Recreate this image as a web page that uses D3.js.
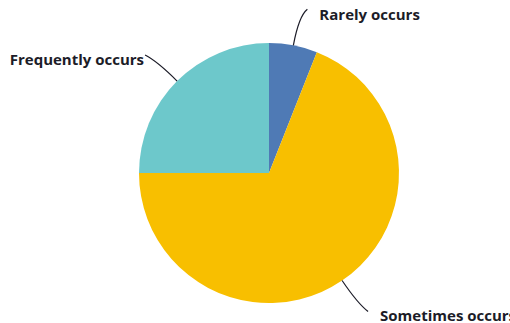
<!DOCTYPE html>
<html>
<head>
<meta charset="utf-8">
<script src="https://cdn.jsdelivr.net/npm/d3@7"></script>
<style>
  html, body { margin: 0; padding: 0; background: #fff; }
  svg { display: block; }
  .lbl { font-family: "Open Sans", "Noto Sans", sans-serif; font-weight: 700; font-size: 15px; fill: #1c1c28; }
</style>
</head>
<body>
<svg id="chart" width="510" height="323"></svg>
<script>
// Share of responses per category
const categories = ["Rarely occurs", "Sometimes occurs", "Frequently occurs"];
const values = [6, 69, 25];
const colors = ["#4f7ab5", "#f8bf00", "#6dc8cb"];

const W = 510, H = 323;
const cx = 269, cy = 173, R = 130;

const svg = d3.select("#chart");
const g = svg.append("g").attr("transform", `translate(${cx},${cy})`);

const pie = d3.pie().sort(null).value(d => d.value);
const arc = d3.arc().innerRadius(0).outerRadius(R);
const arcs = pie(categories.map((c, i) => ({ name: c, value: values[i], color: colors[i] })));

g.selectAll("path.slice")
  .data(arcs)
  .enter().append("path")
  .attr("class", "slice")
  .attr("d", arc)
  .attr("fill", d => d.data.color);

// Leader line layout per label: end point of the curve relative to the slice edge point,
// control radius, and label anchoring
const leader = {
  "Rarely occurs":     { end: [14, -36], ctrl: 160, anchor: "start", tx: 12, ty: 11 },
  "Sometimes occurs":  { end: [26, 31], ctrl: 158, anchor: "start", tx: 12, ty: 9 },
  "Frequently occurs": { end: [-32, -26], ctrl: 158, anchor: "end", tx: -1, ty: 10 }
};

const polar = (a, r) => [Math.sin(a) * r, -Math.cos(a) * r];

arcs.forEach(d => {
  const L = leader[d.data.name];
  const mid = (d.startAngle + d.endAngle) / 2;
  const p0 = polar(mid, R);
  const c = polar(mid, L.ctrl);
  const p2 = [p0[0] + L.end[0], p0[1] + L.end[1]];
  const path = d3.path();
  path.moveTo(p0[0], p0[1]);
  path.quadraticCurveTo(c[0], c[1], p2[0], p2[1]);
  g.append("path")
    .attr("d", path.toString())
    .attr("fill", "none")
    .attr("stroke", "#1c1c28")
    .attr("stroke-width", 1.2);
  g.append("text")
    .attr("class", "lbl")
    .attr("x", p2[0] + L.tx)
    .attr("y", p2[1] + L.ty)
    .attr("text-anchor", L.anchor)
    .text(d.data.name);
});
</script>
</body>
</html>
